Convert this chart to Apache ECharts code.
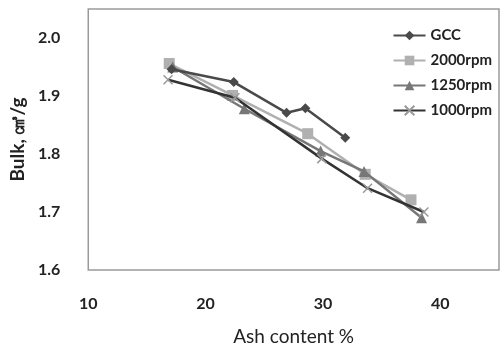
<!DOCTYPE html>
<html>
<head>
<meta charset="utf-8">
<script src="https://cdn.jsdelivr.net/npm/echarts@6/dist/echarts.min.js"></script>
<style>
  html, body { margin: 0; padding: 0; background: #fff; }
  #chart { width: 503px; height: 351px; }
</style>
</head>
<body>
<div id="chart"></div>
<script>
// ash content (%) and bulk (cm3/g) for each series
var gccX = [17.1, 22.4, 26.9, 28.5, 31.9];
var gccY = [1.946, 1.924, 1.871, 1.879, 1.828];
var rpm2000X = [16.9, 22.3, 28.7, 33.6, 37.5];
var rpm2000Y = [1.956, 1.901, 1.835, 1.765, 1.721];
var rpm1250X = [17.2, 23.3, 29.8, 33.5, 38.4];
var rpm1250Y = [1.950, 1.878, 1.805, 1.770, 1.690];
var rpm1000X = [16.8, 22.5, 29.9, 33.8, 38.6];
var rpm1000Y = [1.928, 1.897, 1.792, 1.741, 1.700];
var xTicks = [10, 20, 30, 40];
var yTicks = [1.6, 1.7, 1.8, 1.9, 2.0];

function pairs(xs, ys) {
  return xs.map(function (x, i) { return [x, ys[i]]; });
}

var font = "Lato, 'Open Sans', sans-serif";
var chart = echarts.init(document.getElementById("chart"));

var option = {
  animation: false,
  grid: {
    left: 80,
    right: 4,
    top: 9,
    bottom: 76,
    show: true,
    borderColor: "#9a9a9a",
    borderWidth: 1.5,
  },
  legend: {
    right: 6,
    top: 23,
    orient: "vertical",
    itemWidth: 32,
    itemHeight: 12,
    itemGap: 10,
    textStyle: { fontFamily: font, fontSize: 15, fontWeight: "bold", color: "#222" },
    data: ["GCC", "2000rpm", "1250rpm", "1000rpm"],
  },
  xAxis: {
    type: "value",
    min: 10,
    max: 45,
    interval: 10,
    axisLine: { show: false },
    axisTick: { show: false },
    splitLine: { show: false },
    axisLabel: {
      margin: 26,
      showMaxLabel: false,
      fontFamily: font,
      fontSize: 16,
      fontWeight: "bold",
      color: "#222",
      formatter: function (v) { return xTicks.indexOf(v) >= 0 ? v : ""; },
    },
    name: "Ash content %",
    nameLocation: "middle",
    nameGap: 57,
    nameTextStyle: { fontFamily: font, fontSize: 19, color: "#222" },
  },
  yAxis: {
    type: "value",
    min: 1.6,
    max: 2.05,
    interval: 0.1,
    axisLine: { show: false },
    axisTick: { show: false },
    splitLine: { show: false },
    axisLabel: {
      margin: 28,
      showMaxLabel: false,
      fontFamily: font,
      fontSize: 16,
      fontWeight: "bold",
      color: "#222",
      formatter: function (v) {
        var r = Math.round(v * 10) / 10;
        return yTicks.indexOf(r) >= 0 ? r.toFixed(1) : "";
      },
    },
    name: "Bulk, ㎤/g",
    nameLocation: "middle",
    nameGap: 59,
    nameTextStyle: { fontFamily: font, fontSize: 19, fontWeight: "bold", color: "#222" },
  },
  series: [
    {
      name: "GCC",
      type: "line",
      data: pairs(gccX, gccY),
      symbol: "diamond",
      symbolSize: 10,
      lineStyle: { color: "#4a4a4a", width: 2.5 },
      itemStyle: { color: "#4a4a4a" },
      z: 5,
    },
    {
      name: "2000rpm",
      type: "line",
      data: pairs(rpm2000X, rpm2000Y),
      symbol: "rect",
      symbolSize: 11,
      lineStyle: { color: "#b0b0b0", width: 2.5 },
      itemStyle: { color: "#b0b0b0" },
      z: 2,
    },
    {
      name: "1250rpm",
      type: "line",
      data: pairs(rpm1250X, rpm1250Y),
      symbol: "triangle",
      symbolSize: 11,
      lineStyle: { color: "#777777", width: 2.5 },
      itemStyle: { color: "#777777" },
      z: 3,
    },
    {
      name: "1000rpm",
      type: "line",
      data: pairs(rpm1000X, rpm1000Y),
      symbol: "path://M0,0L10,10M10,0L0,10",
      symbolSize: 9,
      lineStyle: { color: "#333333", width: 2.5 },
      itemStyle: { color: "#333333", borderColor: "#999", borderWidth: 1.5 },
      z: 4,
    },
  ],
};

chart.setOption(option);
</script>
</body>
</html>
